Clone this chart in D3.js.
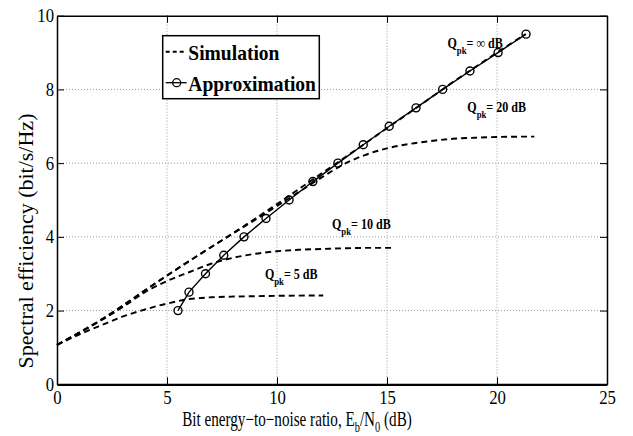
<!DOCTYPE html>
<html>
<head>
<meta charset="utf-8">
<script src="https://cdn.jsdelivr.net/npm/d3@7"></script>
<style>
body { margin: 0; background: #fff; }
svg { display: block; }
text { font-family: "Liberation Serif", "Times New Roman", serif; fill: #000; }
</style>
</head>
<body>
<svg id="chart" width="633" height="436"></svg>
<script>
// values
const xTicks = [0, 5, 10, 15, 20, 25];
const yTicks = [0, 2, 4, 6, 8, 10];

const simInfX = [0, 1, 2, 3, 4, 5, 6, 7, 8, 9, 10, 11, 12, 13, 14, 15, 16, 17, 18, 19, 20, 21.3];
const simInfY = [1.07, 1.40, 1.75, 2.13, 2.55, 2.95, 3.34, 3.72, 4.10, 4.49, 4.89, 5.30, 5.71, 6.12, 6.53, 6.95, 7.36, 7.78, 8.20, 8.60, 9.00, 9.50];
const sim20X = [0, 2, 4, 6, 8, 9, 10, 11, 12, 13, 14, 15, 16, 17, 18, 19, 20, 21.7];
const sim20Y = [1.07, 1.75, 2.55, 3.34, 4.09, 4.46, 4.84, 5.22, 5.60, 5.96, 6.22, 6.40, 6.52, 6.60, 6.66, 6.69, 6.71, 6.72];
const sim10X = [0, 1, 2, 3, 4, 5, 6, 7, 8, 9, 10, 11, 12, 13, 14, 15.3];
const sim10Y = [1.07, 1.39, 1.73, 2.10, 2.50, 2.80, 3.04, 3.27, 3.43, 3.54, 3.61, 3.65, 3.67, 3.69, 3.70, 3.70];
const sim5X = [0, 1, 2, 3, 4, 5, 6, 7, 8, 9, 10, 12.1];
const sim5Y = [1.07, 1.35, 1.60, 1.84, 2.03, 2.19, 2.31, 2.36, 2.38, 2.39, 2.40, 2.41];

const approxX = [5.5, 6.0, 6.75, 7.58, 8.5, 9.5, 10.55, 11.63, 12.77, 13.92, 15.1, 16.32, 17.53, 18.77, 20.05, 21.32];
const approxY = [2, 2.5, 3, 3.5, 4, 4.5, 5, 5.5, 6, 6.5, 7, 7.5, 8, 8.5, 9, 9.5];

const curveLabels = ['\u221e', '20', '10', '5'];
const labelX = [17.75, 18.65, 12.5, 9.45];
const labelY = [9.12, 7.38, 4.22, 2.86];

const legendNames = ['Simulation', 'Approximation'];

const svg = d3.select('#chart');
const margin = { left: 57, top: 15.7, right: 26, bottom: 51.7 };
const width = 633 - margin.left - margin.right;
const height = 436 - margin.top - margin.bottom;

const x = d3.scaleLinear().domain([0, 25]).range([0, width]);
const y = d3.scaleLinear().domain([0, 10]).range([height, 0]);

const g = svg.append('g').attr('transform', `translate(${margin.left},${margin.top})`);

// squeeze text horizontally, like the narrow glyphs of the original
function squeeze(sel, k) {
    sel.each(function () {
        const w = this.getComputedTextLength();
        d3.select(this).attr('textLength', w * k).attr('lengthAdjust', 'spacingAndGlyphs');
    });
}

// dotted grid
g.append('g')
    .selectAll('line')
    .data(xTicks.slice(1, -1))
    .join('line')
    .attr('x1', (d) => x(d))
    .attr('x2', (d) => x(d))
    .attr('y1', 0)
    .attr('y2', height)
    .attr('stroke', '#9a9a9a')
    .attr('stroke-width', 1)
    .attr('stroke-dasharray', '1,2');
g.append('g')
    .selectAll('line')
    .data(yTicks.slice(1, -1))
    .join('line')
    .attr('x1', 0)
    .attr('x2', width)
    .attr('y1', (d) => y(d))
    .attr('y2', (d) => y(d))
    .attr('stroke', '#9a9a9a')
    .attr('stroke-width', 1)
    .attr('stroke-dasharray', '1,2');

// axes with inward ticks
const xAxis = g.append('g')
    .attr('transform', `translate(0,${height})`)
    .call(d3.axisBottom(x).tickValues(xTicks).tickSizeInner(-7).tickSizeOuter(0).tickPadding(6));
const yAxis = g.append('g')
    .call(d3.axisLeft(y).tickValues(yTicks).tickSizeInner(-7).tickSizeOuter(0).tickPadding(3));
const topAxis = g.append('g')
    .call(d3.axisTop(x).tickValues(xTicks).tickSizeInner(-7).tickSizeOuter(0).tickFormat(''));
const rightAxis = g.append('g')
    .attr('transform', `translate(${width},0)`)
    .call(d3.axisRight(y).tickValues(yTicks).tickSizeInner(-7).tickSizeOuter(0).tickFormat(''));

[xAxis, yAxis, topAxis, rightAxis].forEach((a) => {
    a.selectAll('.tick line').attr('stroke', '#000').attr('stroke-width', 1);
    a.select('.domain').attr('stroke', '#000').attr('stroke-width', 1.5);
});
xAxis.select('.domain').attr('stroke-width', 2.2);
[xAxis, yAxis].forEach((a) => {
    a.selectAll('text').attr('font-size', 19).attr('font-family', '"Liberation Serif", serif');
    squeeze(a.selectAll('text'), 0.88);
});

// simulation curves
const line = d3.line().x((d) => x(d[0])).y((d) => y(d[1])).curve(d3.curveMonotoneX);
const simSeries = [
    d3.zip(simInfX, simInfY),
    d3.zip(sim20X, sim20Y),
    d3.zip(sim10X, sim10Y),
    d3.zip(sim5X, sim5Y),
];
g.append('g')
    .selectAll('path')
    .data(simSeries)
    .join('path')
    .attr('d', line)
    .attr('fill', 'none')
    .attr('stroke', '#000')
    .attr('stroke-width', 1.9)
    .attr('stroke-dasharray', '6,4');

// approximation
const approx = d3.zip(approxX, approxY);
g.append('path')
    .datum(approx)
    .attr('d', d3.line().x((d) => x(d[0])).y((d) => y(d[1])))
    .attr('fill', 'none')
    .attr('stroke', '#000')
    .attr('stroke-width', 1.4);
g.append('g')
    .selectAll('circle')
    .data(approx)
    .join('circle')
    .attr('cx', (d) => x(d[0]))
    .attr('cy', (d) => y(d[1]))
    .attr('r', 4)
    .attr('fill', 'none')
    .attr('stroke', '#000')
    .attr('stroke-width', 1.4);

// curve labels
curveLabels.forEach((lab, i) => {
    const t = g.append('text')
        .attr('x', x(labelX[i]))
        .attr('y', y(labelY[i]))
        .attr('font-size', 14.5)
        .attr('font-weight', 'bold');
    t.append('tspan').text('Q');
    t.append('tspan').attr('font-size', 10.5).attr('dy', 6).text('pk');
    t.append('tspan').attr('dy', -6).text(`= ${lab} dB`);
    squeeze(t, 0.83);
});

// legend
const legend = g.append('g').attr('transform', `translate(${162.7 - margin.left},${35.7 - margin.top})`);
legend.append('rect')
    .attr('width', 156.6)
    .attr('height', 63)
    .attr('fill', '#fff')
    .attr('stroke', '#000')
    .attr('stroke-width', 1.5);
const items = legend.selectAll('g')
    .data(legendNames)
    .join('g')
    .attr('transform', (d, i) => `translate(0,${16 + i * 31})`);
items.append('line')
    .attr('x1', 3)
    .attr('x2', 24)
    .attr('stroke', '#000')
    .attr('stroke-width', (d, i) => (i === 0 ? 1.9 : 1.3))
    .attr('stroke-dasharray', (d, i) => (i === 0 ? '4,3' : null));
items.filter((d, i) => i === 1)
    .append('circle')
    .attr('cx', 14)
    .attr('r', 4)
    .attr('fill', 'none')
    .attr('stroke', '#000')
    .attr('stroke-width', 1.3);
const legendText = items.append('text')
    .attr('x', 25.6)
    .attr('y', 8.5)
    .attr('font-size', 21)
    .attr('font-weight', 'bold')
    .text((d) => d);
squeeze(legendText, 0.93);

// axis titles
const xTitle = svg.append('g')
    .attr('transform', `translate(297,426) scale(0.74,1)`)
    .append('text')
    .attr('text-anchor', 'middle')
    .attr('font-size', 20.5);
xTitle.append('tspan').text('Bit energy\u2212to\u2212noise ratio, E');
xTitle.append('tspan').attr('font-size', 14).attr('dy', 6).text('b');
xTitle.append('tspan').attr('dy', -6).text('/N');
xTitle.append('tspan').attr('font-size', 14).attr('dy', 6).text('0');
xTitle.append('tspan').attr('dy', -6).text(' (dB)');

svg.append('text')
    .attr('transform', `translate(33,241) rotate(-90)`)
    .attr('text-anchor', 'middle')
    .attr('font-size', 22)
    .text('Spectral efficiency (bit/s/Hz)');
</script>
</body>
</html>
